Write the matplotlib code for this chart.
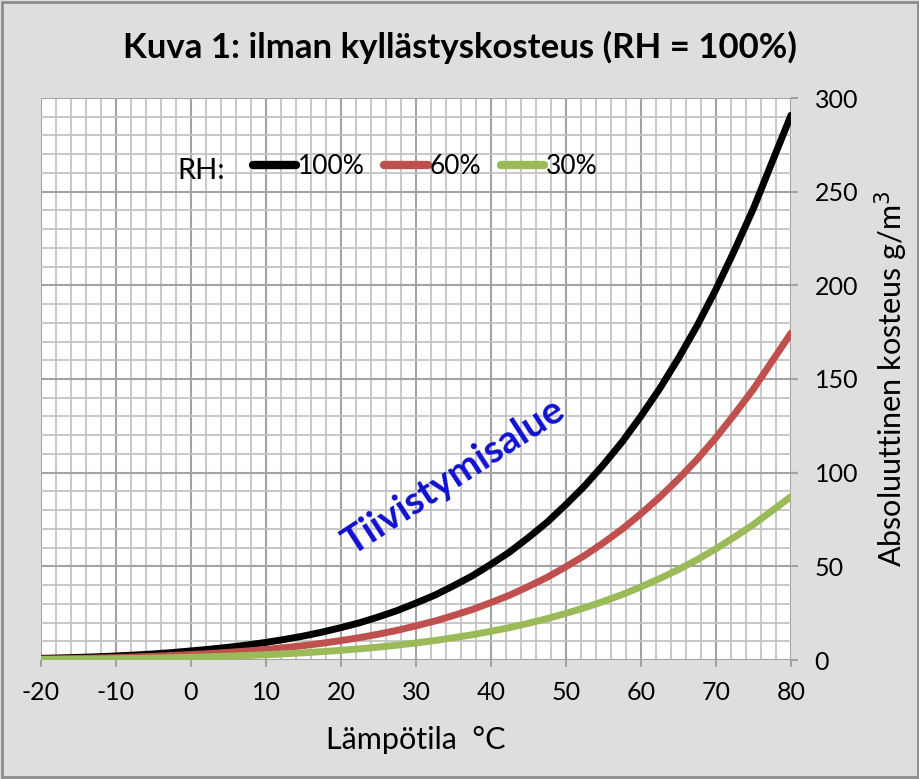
import matplotlib
matplotlib.use("Agg")
import matplotlib.pyplot as plt
from matplotlib.ticker import MultipleLocator
from matplotlib.patches import Rectangle

plt.rcParams['font.family'] = ['Lato', 'DejaVu Sans']
plt.rcParams['axes.unicode_minus'] = False

temps = [-20, -17.5, -15, -12.5, -10, -7.5, -5, -2.5, 0, 2.5, 5, 7.5, 10, 12.5, 15, 17.5, 20,
         22.5, 25, 27.5, 30, 32.5, 35, 37.5, 40, 42.5, 45, 47.5, 50, 52.5, 55, 57.5, 60, 62.5,
         65, 67.5, 70, 72.5, 75, 77.5, 80]
rh100 = [0.88, 1.11, 1.39, 1.73, 2.14, 2.65, 3.24, 3.97, 4.85, 5.75, 6.8, 8.0, 9.4, 11.0, 12.8,
         14.9, 17.3, 19.9, 23.0, 26.4, 30.4, 34.6, 39.6, 44.9, 51.1, 57.7, 65.4, 73.6, 83.0, 93.0,
         104.3, 116.5, 130.2, 144.9, 161.1, 178.6, 197.9, 219.0, 241.1, 266.0, 290.8]
rh60 = [0.53, 0.67, 0.83, 1.04, 1.28, 1.59, 1.94, 2.38, 2.91, 3.45, 4.08, 4.8, 5.64, 6.6, 7.68,
        8.94, 10.38, 11.94, 13.8, 15.84, 18.24, 20.76, 23.76, 26.94, 30.66, 34.62, 39.24, 44.16,
        49.8, 55.8, 62.58, 69.9, 78.12, 86.94, 96.66, 107.16, 118.74, 131.4, 144.66, 159.6, 174.48]
rh30 = [0.26, 0.33, 0.42, 0.52, 0.64, 0.8, 0.97, 1.19, 1.46, 1.73, 2.04, 2.4, 2.82, 3.3, 3.84,
        4.47, 5.19, 5.97, 6.9, 7.92, 9.12, 10.38, 11.88, 13.47, 15.33, 17.31, 19.62, 22.08, 24.9,
        27.9, 31.29, 34.95, 39.06, 43.47, 48.33, 53.58, 59.37, 65.7, 72.33, 79.8, 87.24]
series_labels = ['100%', '60%', '30%']
series_colors = ['#000000', '#c0504d', '#9bbb59']

fig = plt.figure(figsize=(9.2, 7.79), dpi=100)
fig.patch.set_facecolor('#dedede')
fig.patches.append(Rectangle((0.002, 0.002), 0.996, 0.996, transform=fig.transFigure,
                             fill=False, edgecolor='#8c8c8c', linewidth=2))

ax = fig.add_axes([41/920, 1-660/779, 750/920, 562/779])
ax.set_facecolor('white')

for ys, lab, c in zip([rh100, rh60, rh30], series_labels, series_colors):
    ax.plot(temps, ys, color=c, linewidth=5, label=lab, solid_capstyle='round',
            solid_joinstyle='round', zorder=3)

ax.set_xlim(-20, 80)
ax.set_ylim(0, 300)
ax.xaxis.set_major_locator(MultipleLocator(10))
ax.xaxis.set_minor_locator(MultipleLocator(2))
ax.yaxis.set_major_locator(MultipleLocator(50))
ax.yaxis.set_minor_locator(MultipleLocator(10))
ax.grid(which='minor', color='#c4c4c4', linewidth=1.3)
ax.grid(which='major', color='#a3a3a3', linewidth=1.5)
ax.set_axisbelow(True)

ax.yaxis.tick_right()
ax.yaxis.set_label_position('right')
ax.tick_params(axis='both', which='major', labelsize=18, length=5, color='#a3a3a3', width=1.5)
ax.tick_params(axis='both', which='minor', length=0)
ax.tick_params(axis='x', pad=10)
ax.tick_params(axis='y', pad=12)
for s in ax.spines.values():
    s.set_visible(False)

ax.set_xlabel('Lämpötila  °C', fontsize=22, labelpad=16)
ax.set_ylabel('Absoluuttinen kosteus g/m$^3$', fontsize=22, labelpad=10)

fig.text(460/920, 1-47/779, 'Kuva 1: ilman kyllästyskosteus (RH = 100%)', fontsize=25,
         fontweight='bold', ha='center', va='center')

ax.text(35.0, 98, 'Tiivistymisalue', color='#1010d0', fontsize=28, fontweight='bold',
        rotation=33, ha='center', va='center', rotation_mode='anchor', zorder=4)

fig.text(177/920, 1-171/779, 'RH:', fontsize=21, ha='left', va='center')
leg = ax.legend(loc='center left', bbox_to_anchor=((242 - 41)/750, 1-(167-98)/562), ncol=3,
                frameon=False, fontsize=19, handlelength=1.65, handletextpad=0.05,
                columnspacing=0.76, borderaxespad=0)
for h in leg.get_lines():
    h.set_linewidth(6)

fig.savefig('out.png', dpi=100, facecolor=fig.get_facecolor())
